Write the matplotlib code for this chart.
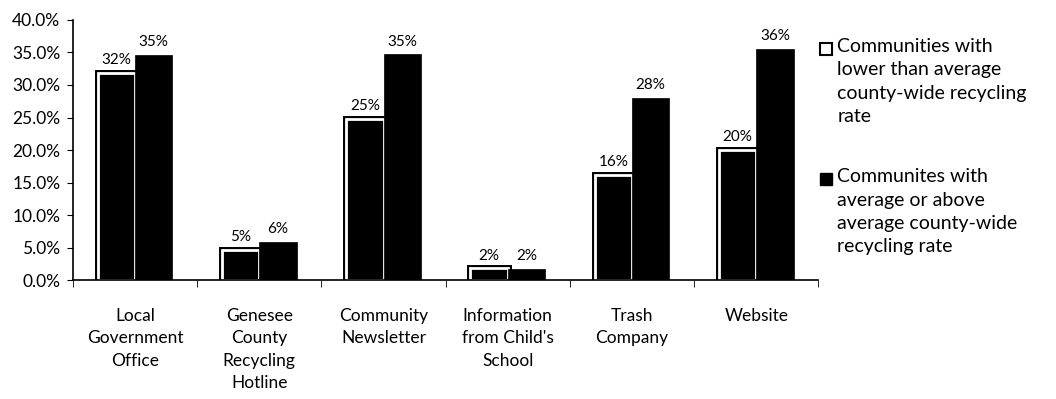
import matplotlib.pyplot as plt
import numpy as np
from matplotlib.lines import Line2D

plt.rcParams['font.family'] = ['Lato', 'DejaVu Sans']

categories = ["Local\nGovernment\nOffice", "Genesee\nCounty\nRecycling\nHotline",
              "Community\nNewsletter", "Information\nfrom Child's\nSchool",
              "Trash\nCompany", "Website"]
lower = [31.8, 4.6, 24.8, 1.8, 16.2, 20.0]
above = [34.6, 5.9, 34.7, 1.7, 28.0, 35.6]
yticks = [0, 5, 10, 15, 20, 25, 30, 35, 40]
legend_labels = ["Communities with\nlower than average\ncounty-wide recycling\nrate",
                 "Communites with\naverage or above\naverage county-wide\nrecycling rate"]

fig = plt.figure(figsize=(10.56, 3.99), dpi=100)
ax = fig.add_axes([0.069, 0.298, 0.706, 0.652])

x = np.arange(len(categories))
w = 0.3
# lower-rate bars: black fill with a white inner frame and black outer frame
ax.bar(x - w / 2, lower, width=w, color='black', edgecolor='black', linewidth=5)
b1 = ax.bar(x - w / 2, lower, width=w, color='black', edgecolor='white', linewidth=2)
b2 = ax.bar(x + w / 2, above, width=w, color='black', edgecolor='black', linewidth=0.5)

for bars in (b1, b2):
    for b in bars:
        h = b.get_height()
        ax.text(b.get_x() + b.get_width() / 2, h + 0.9, f"{h:.0f}%",
                ha='center', va='bottom', fontsize=11)

ax.set_xlim(-0.5, len(categories) - 0.5)
ax.set_ylim(0, 40)
ax.set_yticks(yticks)
ax.set_yticklabels([f"{v:.1f}%" for v in yticks])
ax.set_xticks(x)
ax.set_xticklabels(categories, fontsize=12.5, va='top', linespacing=1.5)
ax.set_xticks(np.arange(len(categories) + 1) - 0.5, minor=True)
ax.tick_params(axis='x', which='major', length=0, pad=20)
ax.tick_params(axis='x', which='minor', length=5, direction='out', color='black')
ax.tick_params(axis='y', labelsize=12.5, length=4, direction='out', pad=5)
ax.spines['top'].set_visible(False)
ax.spines['right'].set_visible(False)
ax.spines['left'].set_linewidth(1.2)
ax.spines['bottom'].set_linewidth(1.2)

# legend drawn by hand so each marker sits on the first line of its label
leg_marks = [dict(markerfacecolor='white', markeredgecolor='black', markeredgewidth=1.5),
             dict(markerfacecolor='black', markeredgecolor='black')]
leg_tops = [0.905, 0.578]
for label, style, top in zip(legend_labels, leg_marks, leg_tops):
    fig.text(0.793, top, label, ha='left', va='top', fontsize=14, linespacing=1.45)
    fig.add_artist(Line2D([0.782], [top - 0.027], marker='s', markersize=8,
                          linestyle='none', transform=fig.transFigure, **style))

plt.savefig("out.png", dpi=100)
